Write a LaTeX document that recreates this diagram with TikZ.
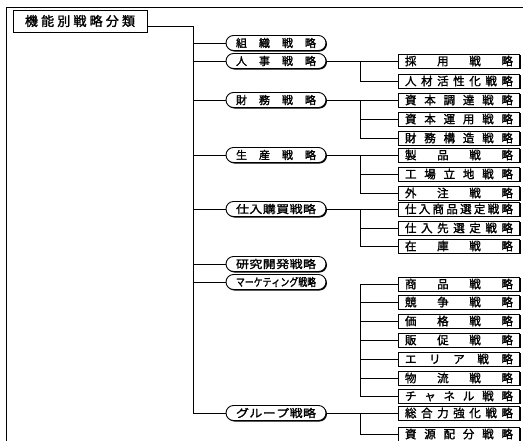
\documentclass[tikz,border=0pt]{standalone}
\usepackage{fontspec}
\setmainfont{Noto Sans CJK JP}[AutoFakeBold=1.6]
\newfontfamily\widejp{Noto Sans CJK JP}[FakeStretch=1.18, AutoFakeBold=1.6]
\newfontfamily\narrowjp{Noto Sans CJK JP}[FakeStretch=0.8, AutoFakeBold=1.6]
\usetikzlibrary{shapes.misc, shadows}

% spread the characters of a label over a fixed width
\makeatletter
\def\spreadchars#1{\spread@a#1\@nil}
\def\spread@a#1#2\@nil{#1\if\relax\detokenize{#2}\relax\else\hfil\spread@a#2\@nil\fi}
\makeatother
\newcommand{\roottext}[1]{\hbox to 110pt{\spreadchars{#1}}}
\newcommand{\midtext}[1]{\hbox to 80pt{\spreadchars{#1}}}
\newcommand{\leaftext}[1]{\hbox to 108pt{\spreadchars{#1}}}

\begin{document}
\begin{tikzpicture}[
    x=1pt, y=-1pt,
    shadowed/.style={drop shadow={shadow xshift=1pt, shadow yshift=-1pt, opacity=1, fill=black}},
    rootbox/.style={draw, line width=1pt, fill=white, shadowed, minimum width=134pt, minimum height=22pt, inner sep=0pt, font=\fontsize{13}{15}\selectfont\bfseries},
    midbox/.style={draw, rounded rectangle, line width=0.9pt, fill=white, shadowed, minimum width=100pt, minimum height=15pt, inner sep=0pt, font=\fontsize{11}{12}\selectfont\bfseries},
    tightmid/.style={midbox, font=\fontsize{11}{12}\widejp\bfseries},
    leafbox/.style={draw, line width=0.9pt, fill=white, shadowed, minimum width=121pt, minimum height=14pt, inner sep=0pt, font=\fontsize{11.5}{12}\selectfont\bfseries},
    conn/.style={line width=0.9pt},
    frame/.style={line width=0.6pt},
]
\useasboundingbox (0,0) rectangle (523,440);

% ============ outer frame ============
\draw[frame] (6,7) -- (540,7);
\draw[frame] (6,7) -- (6,450);

% ============ root ============
\node[rootbox] (root) at (80,21) {\roottext{機能別戦略分類}};

\coordinate (trunk) at (193,0);
\coordinate (bus) at (360,0);

% ============ middle level ============
\node[midbox] (m_soshiki) at (276,43) {\midtext{組織戦略}};
\node[midbox] (m_jinji) at (276,61) {\midtext{人事戦略}};
\node[midbox] (m_zaimu) at (276,100) {\midtext{財務戦略}};
\node[midbox] (m_seisan) at (276,155) {\midtext{生産戦略}};
\node[tightmid] (m_shiire) at (276,209) {\midtext{仕入購買戦略}};
\node[tightmid] (m_kenkyu) at (276,264) {\midtext{研究開発戦略}};
\node[midbox, font=\fontsize{11}{12}\narrowjp\bfseries] (m_market) at (276,282) {\midtext{マーケティング戦略}};
\node[tightmid] (m_group) at (276,413) {\midtext{グループ戦略}};

% ============ leaves ============
\node[leafbox] (l_saiyo) at (459,61) {\leaftext{採用戦略}};
\node[leafbox] (l_jinzai) at (459,81) {\leaftext{人材活性化戦略}};

\node[leafbox] (l_chotatsu) at (459,100) {\leaftext{資本調達戦略}};
\node[leafbox] (l_unyo) at (459,119) {\leaftext{資本運用戦略}};
\node[leafbox] (l_kozo) at (459,138) {\leaftext{財務構造戦略}};

\node[leafbox] (l_seihin) at (459,155) {\leaftext{製品戦略}};
\node[leafbox] (l_ritchi) at (459,174) {\leaftext{工場立地戦略}};
\node[leafbox] (l_gaichu) at (459,193) {\leaftext{外注戦略}};

\node[leafbox] (l_shohinsentei) at (459,209) {\leaftext{仕入商品選定戦略}};
\node[leafbox] (l_shiiresaki) at (459,228) {\leaftext{仕入先選定戦略}};
\node[leafbox] (l_zaiko) at (459,246) {\leaftext{在庫戦略}};

\node[leafbox] (l_shohin) at (459,284) {\leaftext{商品戦略}};
\node[leafbox] (l_kyoso) at (459,302) {\leaftext{競争戦略}};
\node[leafbox] (l_kakaku) at (459,321) {\leaftext{価格戦略}};
\node[leafbox] (l_hansoku) at (459,340) {\leaftext{販促戦略}};
\node[leafbox] (l_area) at (459,359) {\leaftext{エリア戦略}};
\node[leafbox] (l_butsuryu) at (459,378) {\leaftext{物流戦略}};
\node[leafbox] (l_channel) at (459,396) {\leaftext{チャネル戦略}};

\node[leafbox] (l_sogo) at (459,413) {\leaftext{総合力強化戦略}};
\node[leafbox] (l_shigen) at (459,434) {\leaftext{資源配分戦略}};

% ============ root to middle ============
\draw[conn] ([yshift=-5pt]root.east) -| (trunk |- m_group.west) -- (m_group.west);
\draw[conn] (trunk |- m_soshiki.west) -- (m_soshiki.west);
\draw[conn] (trunk |- m_jinji.west) -- (m_jinji.west);
\draw[conn] (trunk |- m_zaimu.west) -- (m_zaimu.west);
\draw[conn] (trunk |- m_seisan.west) -- (m_seisan.west);
\draw[conn] (trunk |- m_shiire.west) -- (m_shiire.west);
\draw[conn] (trunk |- m_kenkyu.west) -- (m_kenkyu.west);
\draw[conn] (trunk |- m_market.west) -- (m_market.west);

% ============ middle to leaves ============
\draw[conn] (m_jinji.east) -- (l_saiyo.west);
\draw[conn] (bus |- m_jinji.east) |- (l_jinzai.west);

\draw[conn] (m_zaimu.east) -- (l_chotatsu.west);
\draw[conn] (bus |- m_zaimu.east) |- (l_kozo.west);
\draw[conn] (bus |- l_unyo.west) -- (l_unyo.west);

\draw[conn] (m_seisan.east) -- (l_seihin.west);
\draw[conn] (bus |- m_seisan.east) |- (l_gaichu.west);
\draw[conn] (bus |- l_ritchi.west) -- (l_ritchi.west);

\draw[conn] (m_shiire.east) -- (l_shohinsentei.west);
\draw[conn] (bus |- m_shiire.east) |- (l_zaiko.west);
\draw[conn] (bus |- l_shiiresaki.west) -- (l_shiiresaki.west);

\draw[conn] (l_shohin.west) -- (bus |- l_shohin.west) |- (l_channel.west);
\draw[conn] (bus |- l_kyoso.west) -- (l_kyoso.west);
\draw[conn] (bus |- l_kakaku.west) -- (l_kakaku.west);
\draw[conn] (bus |- l_hansoku.west) -- (l_hansoku.west);
\draw[conn] (bus |- l_area.west) -- (l_area.west);
\draw[conn] (bus |- l_butsuryu.west) -- (l_butsuryu.west);

\draw[conn] (m_group.east) -- (l_sogo.west);
\draw[conn] (bus |- m_group.east) |- (l_shigen.west);

\end{tikzpicture}
\end{document}
